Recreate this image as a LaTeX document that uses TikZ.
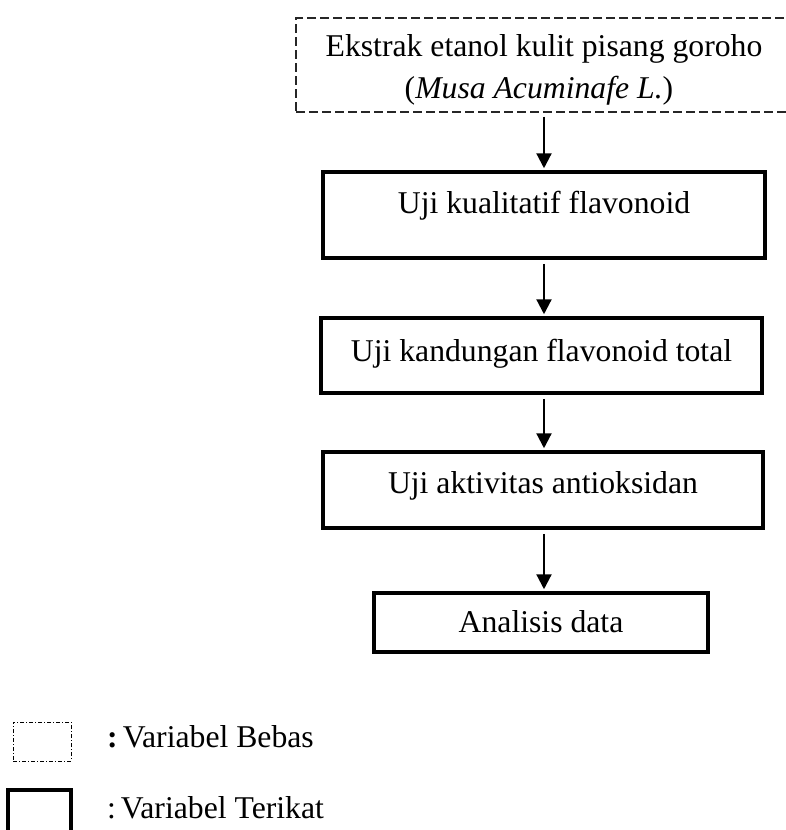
\documentclass[tikz,border=0pt]{standalone}
\usepackage{fontspec}
\setmainfont{Liberation Serif}
\usetikzlibrary{arrows.meta}
\begin{document}
\begin{tikzpicture}[x=1pt,y=-1pt,
  every node/.style={font=\fontsize{31.7}{43}\selectfont, inner sep=0pt},
  solidbox/.style={draw=black, line width=3.5pt, rectangle, text height=22pt},
  dashbox/.style={draw=black!85, line width=1.1pt, dash pattern=on 9pt off 4pt, rectangle},
  legdash/.style={draw=black, line width=0.8pt, dash pattern=on 4pt off 2pt on 1pt off 2pt, rectangle},
  flowarrow/.style={line width=2.2pt, -{Triangle[length=15pt,width=15pt]}, shorten <=4pt, shorten >=2pt},
  txt/.style={anchor=base}
]
\useasboundingbox (0,0) rectangle (785,830);
% boxes
\node[dashbox, minimum width=496pt, minimum height=94pt] (b1) at (544,65) {};
\node[txt] (b1a) at (544,56) {Ekstrak etanol kulit pisang goroho};
\node[txt] (b1b) at (539,98) {(\textit{Musa Acuminafe L.})};
\node[solidbox, minimum width=442pt, minimum height=86pt, text depth=26pt] (b2) at (544,215) {Uji kualitatif flavonoid};
\node[solidbox, minimum width=441pt, minimum height=75pt, text depth=11pt] (b3) at (541.5,355.5) {Uji kandungan flavonoid total};
\node[solidbox, minimum width=440pt, minimum height=76pt, text depth=16pt] (b4) at (543,490) {Uji aktivitas antioksidan};
\node[solidbox, minimum width=334pt, minimum height=59pt, text depth=3pt] (b5) at (541,622.5) {Analisis data};
% arrows
\draw[flowarrow] (b1.south) -- (b1.south |- b2.north);
\draw[flowarrow] (b2.south) -- (b2.south |- b3.north);
\draw[flowarrow] (b3.south -| b2.south) -- (b2.south |- b4.north);
\draw[flowarrow] (b4.south -| b2.south) -- (b2.south |- b5.north);
% legend
\node[legdash, minimum width=58pt, minimum height=39pt] (l1) at (42,741.5) {};
\node[txt, anchor=base west] (l1t) at (107,747) {{\bfseries :}\hspace{5pt}Variabel Bebas};
\node[draw=black, line width=3.5pt, rectangle, minimum width=63pt, minimum height=80pt] (l2) at (39.5,830) {};
\node[txt, anchor=base west] (l2t) at (107,818) {:\hspace{5pt}Variabel Terikat};
\end{tikzpicture}
\end{document}
